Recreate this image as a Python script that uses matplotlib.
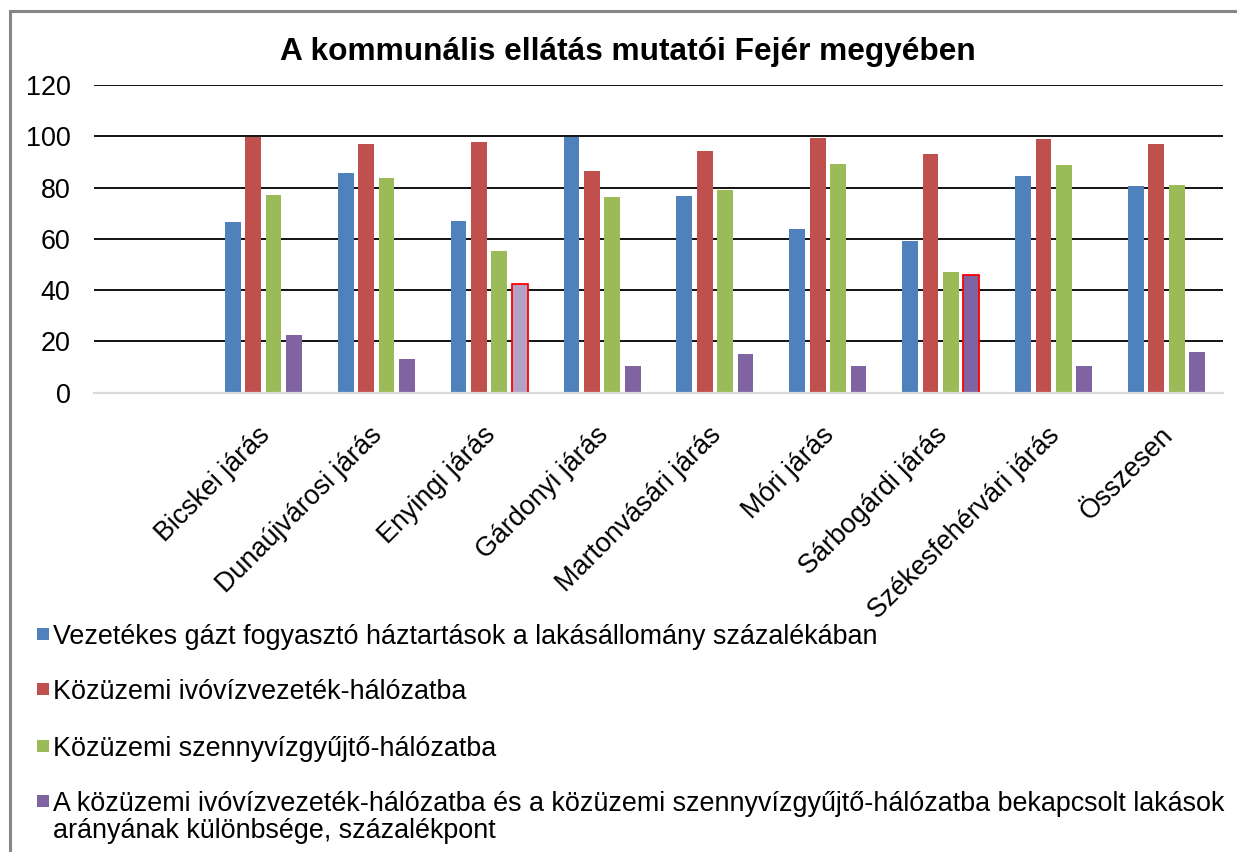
import matplotlib
matplotlib.use("Agg")
import matplotlib.pyplot as plt
from matplotlib.patches import Rectangle
from matplotlib.transforms import ScaledTranslation
import numpy as np

plt.rcParams['font.family'] = ['Liberation Sans', 'DejaVu Sans']

title = "A kommunális ellátás mutatói Fejér megyében"
categories = ["Bicskei járás", "Dunaújvárosi járás", "Enyingi járás", "Gárdonyi járás",
              "Martonvásári járás", "Móri járás", "Sárbogárdi járás",
              "Székesfehérvári járás", "Összesen"]
gas = [66.7, 85.6, 67.1, 99.8, 76.6, 63.7, 59.0, 84.6, 80.5]
water = [99.7, 96.8, 97.7, 86.6, 94.3, 99.4, 93.0, 98.9, 96.8]
sewage = [77.1, 83.6, 55.2, 76.3, 79.1, 89.2, 47.0, 88.6, 80.9]
diff = [22.6, 13.2, 42.5, 10.3, 15.2, 10.2, 46.0, 10.3, 15.9]
series_labels = [
    "Vezetékes gázt fogyasztó háztartások a lakásállomány százalékában",
    "Közüzemi ivóvízvezeték-hálózatba",
    "Közüzemi szennyvízgyűjtő-hálózatba",
    "A közüzemi ivóvízvezeték-hálózatba és a közüzemi szennyvízgyűjtő-hálózatba bekapcsolt lakások\narányának különbsége, százalékpont",
]
yticks = [0, 20, 40, 60, 80, 100, 120]

colors = ["#4F81BD", "#C0504D", "#9BBB59", "#8064A2"]

W, H = 1237, 852
fig = plt.figure(figsize=(W / 100, H / 100), dpi=100)
ax = fig.add_axes([94 / W, 1 - 392.5 / H, (1223 - 94) / W, (392.5 - 85) / H])

x = np.arange(len(categories))
step = 0.1807
bw = 0.14
all_series = [gas, water, sewage, diff]
bar_groups = []
for i, (vals, c) in enumerate(zip(all_series, colors)):
    bars = ax.bar(x + (i - 1.5) * step, vals, width=bw, color=c, edgecolor="none", zorder=3)
    bar_groups.append(bars)

# highlighted bars in the purple series
hl = bar_groups[3][2]
hl.set_facecolor("#B3A2C7")
hl.set_edgecolor("#FF0000")
hl.set_linewidth(1.3)
hl2 = bar_groups[3][6]
hl2.set_edgecolor("#FF0000")
hl2.set_linewidth(1.3)

FS = 19.4
ax.set_xlim(-1.5, len(categories) - 0.5)
ax.set_ylim(0, 120)
ax.set_yticks(yticks)
ax.set_yticklabels([str(v) for v in yticks], fontsize=FS)
ax.yaxis.grid(True, color="black", linewidth=1.3, zorder=0)
ax.set_axisbelow(True)
ax.set_xticks(x)
ax.set_xticklabels(categories, rotation=45, ha="right", va="center",
                   rotation_mode="anchor", fontsize=FS)
ax.tick_params(axis="both", length=0)
ax.tick_params(axis="x", pad=28)
ax.tick_params(axis="y", pad=17)
shift = ScaledTranslation(2.5 / 100, 0, fig.dpi_scale_trans)
for lab in ax.get_xticklabels():
    lab.set_transform(lab.get_transform() + shift)
for s in ["left", "right", "top"]:
    ax.spines[s].set_visible(False)
ax.spines["bottom"].set_color("#D9D9D9")
ax.spines["bottom"].set_linewidth(1.6)
ax.spines["bottom"].set_zorder(4)

fig.text(628 / W, 1 - 60 / H, title, ha="center", va="baseline", fontsize=22.8, fontweight="bold")

# legend drawn manually
leg_y = [634, 689, 746, 801]
for yy, lab, c in zip(leg_y, series_labels, colors):
    fig.patches.append(Rectangle((37 / W, 1 - (yy + 6) / H), 12 / W, 12 / H,
                                 transform=fig.transFigure, facecolor=c, edgecolor="none"))
    lines = lab.split("\n")
    for k, line in enumerate(lines):
        fig.text(53 / W, 1 - (yy + 10 + 27 * k) / H, line, ha="left", va="baseline", fontsize=FS)

# chart border
fig.patches.append(Rectangle((10 / W, -0.05), 1.1, 1 - 11 / H + 0.05, transform=fig.transFigure,
                             facecolor="none", edgecolor="#868686", linewidth=2.2))

fig.savefig("out.png", dpi=100)
